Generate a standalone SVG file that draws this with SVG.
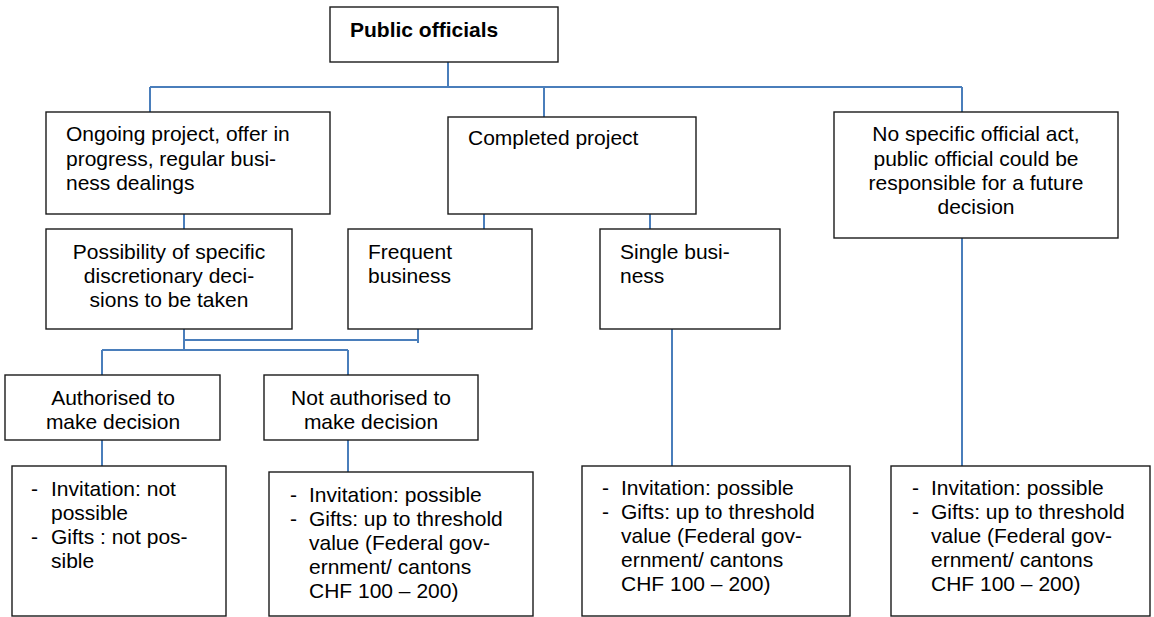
<svg xmlns="http://www.w3.org/2000/svg" width="1154" height="617" viewBox="0 0 1154 617">
<style>
.box{fill:#fff;stroke:#1a1a1a;stroke-width:1.4}
.c{fill:none;stroke:#4a7ebb;stroke-width:2}
text{font-family:"Liberation Sans",Arial,sans-serif;font-size:21px;fill:#000}
.b{font-weight:bold}
.m{text-anchor:middle}
</style>
<rect width="1154" height="617" fill="#fff"/>
<g id="connectors">
<path class="c" d="M448 62V87M150 87H962M150 87V112M544 87V117M962 87V112"/>
<path class="c" d="M184 214V229M484 214V229M650 214V229"/>
<path class="c" d="M184 329V350M184 340H418M418 329V343M102 350H348M102 350V375M348 350V375"/>
<path class="c" d="M102 440V466M348 440V472M672 329V466M962 238V466"/>
</g>
<g id="n-public"><rect class="box" x="330" y="7" width="228" height="55"/><text class="b" x="350" y="37">Public officials</text></g>
<g id="n-ongoing"><rect class="box" x="46" y="112" width="284" height="102"/><text x="66" y="141">Ongoing project, offer in</text><text x="66" y="166">progress, regular busi-</text><text x="66" y="190">ness dealings</text></g>
<g id="n-completed"><rect class="box" x="448" y="117" width="248" height="97"/><text x="468" y="145">Completed project</text></g>
<g id="n-nospecific"><rect class="box" x="834" y="112" width="284" height="126"/><text class="m" x="976" y="141">No specific official act,</text><text class="m" x="976" y="166">public official could be</text><text class="m" x="976" y="190">responsible for a future</text><text class="m" x="976" y="214">decision</text></g>
<g id="n-possibility"><rect class="box" x="46" y="229" width="246" height="100"/><text class="m" x="169" y="259">Possibility of specific</text><text class="m" x="169" y="283">discretionary deci-</text><text class="m" x="169" y="307">sions to be taken</text></g>
<g id="n-frequent"><rect class="box" x="348" y="229" width="184" height="100"/><text x="368" y="259">Frequent</text><text x="368" y="283">business</text></g>
<g id="n-single"><rect class="box" x="600" y="229" width="180" height="100"/><text x="620" y="259">Single busi-</text><text x="620" y="283">ness</text></g>
<g id="n-authorised"><rect class="box" x="5" y="375" width="215" height="65"/><text class="m" x="113" y="405">Authorised to</text><text class="m" x="113" y="429">make decision</text></g>
<g id="n-notauthorised"><rect class="box" x="264" y="375" width="214" height="65"/><text class="m" x="371" y="405">Not authorised to</text><text class="m" x="371" y="429">make decision</text></g>
<g id="n-r1"><rect class="box" x="12" y="466" width="214" height="150"/><text x="31" y="496">-</text><text x="51" y="496">Invitation: not</text><text x="51" y="520">possible</text><text x="31" y="544">-</text><text x="51" y="544">Gifts : not pos-</text><text x="51" y="568">sible</text></g>
<g id="n-r2"><rect class="box" x="269" y="472" width="264" height="144"/><text x="290" y="502">-</text><text x="309" y="502">Invitation: possible</text><text x="290" y="526">-</text><text x="309" y="526">Gifts: up to threshold</text><text x="309" y="550">value (Federal gov-</text><text x="309" y="574">ernment/ cantons</text><text x="309" y="598">CHF 100 – 200)</text></g>
<g id="n-r3"><rect class="box" x="582" y="466" width="268" height="150"/><text x="602" y="495">-</text><text x="621" y="495">Invitation: possible</text><text x="602" y="519">-</text><text x="621" y="519">Gifts: up to threshold</text><text x="621" y="543">value (Federal gov-</text><text x="621" y="567">ernment/ cantons</text><text x="621" y="591">CHF 100 – 200)</text></g>
<g id="n-r4"><rect class="box" x="891" y="466" width="259" height="150"/><text x="912" y="495">-</text><text x="931" y="495">Invitation: possible</text><text x="912" y="519">-</text><text x="931" y="519">Gifts: up to threshold</text><text x="931" y="543">value (Federal gov-</text><text x="931" y="567">ernment/ cantons</text><text x="931" y="591">CHF 100 – 200)</text></g>
</svg>
